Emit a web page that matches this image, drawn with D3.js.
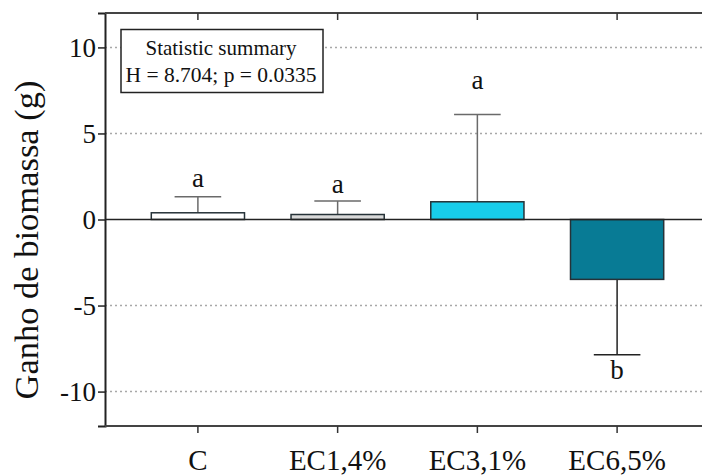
<!DOCTYPE html>
<html>
<head>
<meta charset="utf-8">
<script src="https://cdn.jsdelivr.net/npm/d3@7"></script>
<style>
  body { margin: 0; background: #fff; }
  svg { display: block; }
</style>
</head>
<body>
<svg width="702" height="476"></svg>
<script>
var groups = ["C", "EC1,4%", "EC3,1%", "EC6,5%"];
var means = [0.39, 0.29, 1.03, -3.48];
var errEnds = [1.32, 1.07, 6.1, -7.86];
var letters = ["a", "a", "a", "b"];
var letterPos = [1.88, 1.55, 7.6, -9.27];
var yTicks = [-10, -5, 0, 5, 10];
var gridTicks = [-10, -5, 5, 10];
var fills = ["#ffffff", "#d9d9d9", "#18cdeb", "#087b95"];
var errColors = ["#6a6a6a", "#6a6a6a", "#6a6a6a", "#222222"];
var statLines = ["Statistic summary", "H = 8.704; p = 0.0335"];

var serif = "'Liberation Serif', serif";

var svg = d3.select("svg"),
    margin = {top: 13, left: 105},
    right = 720,
    bottom = 426;

var x = d3.scaleBand().domain(groups).range([128, 687]).paddingInner(0.333).paddingOuter(0.1667),
    y = d3.scaleLinear().domain([-12, 12]).range([bottom, margin.top]);

// dotted grid
svg.append("g").selectAll("line")
    .data(gridTicks)
    .enter().append("line")
    .attr("x1", margin.left).attr("x2", right)
    .attr("y1", function(d) { return y(d); })
    .attr("y2", function(d) { return y(d); })
    .attr("stroke", "#a8a8a8")
    .attr("stroke-width", 1.5)
    .attr("stroke-dasharray", "2,3");

// error bars
var err = svg.append("g").selectAll("g")
    .data(groups)
    .enter().append("g");
err.append("line")
    .attr("x1", function(d) { return x(d) + x.bandwidth() / 2; })
    .attr("x2", function(d) { return x(d) + x.bandwidth() / 2; })
    .attr("y1", function(d, i) { return y(means[i]); })
    .attr("y2", function(d, i) { return y(errEnds[i]); })
    .attr("stroke", function(d, i) { return errColors[i]; })
    .attr("stroke-width", 1.5);
err.append("line")
    .attr("x1", function(d) { return x(d) + x.bandwidth() / 4; })
    .attr("x2", function(d) { return x(d) + x.bandwidth() * 3 / 4; })
    .attr("y1", function(d, i) { return y(errEnds[i]); })
    .attr("y2", function(d, i) { return y(errEnds[i]); })
    .attr("stroke", function(d, i) { return errColors[i]; })
    .attr("stroke-width", 1.5);

// bars
svg.append("g").selectAll("rect")
    .data(groups)
    .enter().append("rect")
    .attr("x", function(d) { return x(d); })
    .attr("width", x.bandwidth())
    .attr("y", function(d, i) { return y(Math.max(0, means[i])); })
    .attr("height", function(d, i) { return Math.abs(y(means[i]) - y(0)); })
    .attr("fill", function(d, i) { return fills[i]; })
    .attr("stroke", "#263238")
    .attr("stroke-width", 1.5);

// zero line
svg.append("line")
    .attr("x1", margin.left).attr("x2", right)
    .attr("y1", y(0)).attr("y2", y(0))
    .attr("stroke", "#222").attr("stroke-width", 1.5);

// significance letters
svg.append("g").selectAll("text")
    .data(letters)
    .enter().append("text")
    .attr("x", function(d, i) { return x(groups[i]) + x.bandwidth() / 2; })
    .attr("y", function(d, i) { return y(letterPos[i]); })
    .attr("text-anchor", "middle")
    .style("font-family", serif)
    .style("font-size", "27px")
    .attr("fill", "#111")
    .text(function(d) { return d; });

// axes
var yAxis = svg.append("g")
    .attr("transform", "translate(" + margin.left + ",0)")
    .call(d3.axisLeft(y).tickValues(yTicks).tickSize(7).tickPadding(2).tickFormat(function(d) { return String(d); }));
yAxis.select(".domain").attr("stroke", "#222").attr("stroke-width", 2);
yAxis.selectAll(".tick line").attr("stroke", "#222").attr("stroke-width", 1.5);
yAxis.selectAll(".tick text").style("font-size", "27px").attr("dy", "0.34em");

var xAxis = svg.append("g")
    .attr("transform", "translate(0," + bottom + ")")
    .call(d3.axisBottom(x).tickSize(7).tickSizeOuter(0).tickPadding(16));
xAxis.select(".domain").attr("d", "M" + margin.left + ",0H" + right).attr("stroke", "#444").attr("stroke-width", 2);
xAxis.selectAll(".tick line").attr("stroke", "#333").attr("stroke-width", 1.5);
xAxis.selectAll(".tick text").style("font-size", "29px");

var topAxis = svg.append("g")
    .attr("transform", "translate(0," + margin.top + ")")
    .call(d3.axisTop(x).tickSize(-7).tickSizeOuter(0).tickFormat(""));
topAxis.select(".domain").attr("d", "M" + margin.left + ",0H" + right).attr("stroke", "#444").attr("stroke-width", 2);
topAxis.selectAll(".tick line").attr("stroke", "#333").attr("stroke-width", 1.5);

svg.selectAll(".tick text").attr("fill", "#111").style("font-family", serif);

// y title
svg.append("text")
    .attr("transform", "translate(38,240) rotate(-90)")
    .attr("text-anchor", "middle")
    .style("font-family", serif)
    .style("font-size", "34.5px")
    .attr("fill", "#111")
    .text("Ganho de biomassa (g)");

// stats box
var box = svg.append("g");
box.append("rect")
    .attr("x", 121).attr("y", 29.5)
    .attr("width", 202).attr("height", 63)
    .attr("fill", "#fff").attr("stroke", "#222").attr("stroke-width", 1.5);
box.selectAll("text")
    .data(statLines)
    .enter().append("text")
    .attr("x", 221)
    .attr("y", function(d, i) { return i == 0 ? 55 : 82; })
    .attr("text-anchor", "middle")
    .style("font-family", serif)
    .style("font-size", function(d, i) { return i == 0 ? "21px" : "21.5px"; })
    .attr("fill", "#111")
    .text(function(d) { return d; });
</script>
</body>
</html>
